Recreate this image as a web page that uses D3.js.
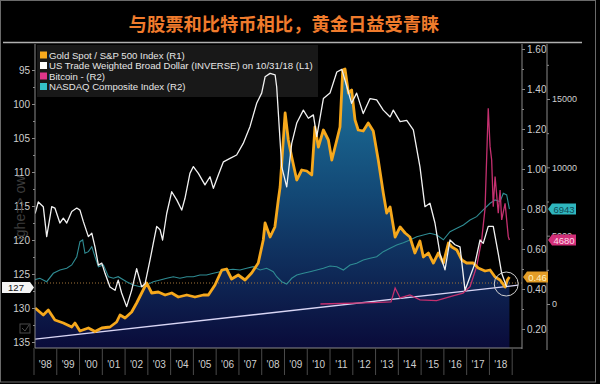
<!DOCTYPE html>
<html>
<head>
<meta charset="utf-8">
<script src="https://cdn.jsdelivr.net/npm/d3@7"></script>
<style>
html, body { margin: 0; padding: 0; background: #000; }
svg { display: block; font-family: "Liberation Sans", Arial, sans-serif; }
</style>
</head>
<body>
<svg id="gold-chart" width="600" height="384"></svg>
<script>
// ---- data ----
const title = "与股票和比特币相比，黄金日益受青睐";
const seriesNames = [
    "Gold Spot / S&P 500 Index (R1)",
    "US Trade Weighted Broad Dollar  (INVERSE) on 10/31/18 (L1)",
    "Bitcoin - (R2)",
    "NASDAQ Composite Index  (R2)"
];
const yearTicks = d3.range(1998, 2020);
const yearLabels = ["'98","'99","'00","'01","'02","'03","'04","'05","'06","'07","'08","'09","'10","'11","'12","'13","'14","'15","'16","'17","'18"];
const leftTicks = [95, 100, 105, 110, 115, 120, 125, 130, 135];
const r1Ticks = [0.2, 0.4, 0.6, 0.8, 1.0, 1.2, 1.4, 1.6];
const r2Ticks = [0, 5000, 10000, 15000];

// Gold / S&P 500 ratio (R1)
const goldSpx = [
    [1998.07,0.305],[1998.43,0.27],[1998.65,0.295],[1998.94,0.245],[1999.31,0.23],[1999.68,0.21],[1999.82,0.23],
    [2000.04,0.19],[2000.41,0.205],[2000.7,0.187],[2001.0,0.205],[2001.36,0.21],[2001.65,0.235],[2001.8,0.27],
    [2002.02,0.255],[2002.31,0.285],[2002.53,0.33],[2002.75,0.38],[2002.97,0.43],[2003.19,0.38],[2003.48,0.385],
    [2003.78,0.37],[2004.07,0.38],[2004.36,0.36],[2004.73,0.37],[2005.09,0.36],[2005.46,0.37],[2005.68,0.37],
    [2005.97,0.42],[2006.27,0.495],[2006.48,0.5],[2006.7,0.45],[2006.99,0.47],[2007.29,0.445],[2007.58,0.48],
    [2007.87,0.53],[2008.09,0.645],[2008.17,0.73],[2008.39,0.66],[2008.6,0.71],[2008.75,0.845],[2008.83,0.91],
    [2009.05,1.28],[2009.19,1.145],[2009.34,1.06],[2009.56,0.945],[2009.78,0.995],[2010.0,0.99],[2010.22,0.97],
    [2010.36,1.21],[2010.51,1.11],[2010.73,1.195],[2010.95,1.145],[2011.1,1.045],[2011.32,1.145],[2011.46,1.21],
    [2011.58,1.495],[2011.68,1.5],[2011.83,1.38],[2011.97,1.395],[2012.12,1.245],[2012.26,1.195],[2012.48,1.19],
    [2012.7,1.23],[2012.92,1.19],[2013.14,1.045],[2013.36,0.88],[2013.51,0.78],[2013.66,0.81],[2013.88,0.66],
    [2014.1,0.71],[2014.32,0.68],[2014.53,0.66],[2014.75,0.58],[2014.97,0.64],[2015.12,0.56],[2015.34,0.58],
    [2015.56,0.53],[2015.78,0.58],[2016.0,0.53],[2016.22,0.63],[2016.37,0.61],[2016.59,0.595],[2016.81,0.545],
    [2017.02,0.53],[2017.31,0.53],[2017.53,0.505],[2017.83,0.49],[2018.05,0.495],[2018.27,0.46],[2018.49,0.445],
    [2018.71,0.41],[2018.81,0.445],[2018.9,0.46]
];

// US trade weighted dollar, inverted (L1)
const dollarInv = [
    [1998.07,116.1],[1998.21,114.4],[1998.43,115.1],[1998.58,119.5],[1998.8,115.1],[1998.94,115.3],[1999.16,117.5],
    [1999.31,116.8],[1999.46,117.5],[1999.68,115.8],[1999.9,115.3],[2000.04,115.6],[2000.19,117.3],[2000.41,119.5],
    [2000.56,119.0],[2000.7,121.0],[2000.85,123.7],[2001.0,123.4],[2001.14,124.9],[2001.36,126.9],[2001.58,127.4],
    [2001.72,125.9],[2001.87,127.8],[2002.09,129.8],[2002.31,127.4],[2002.53,124.2],[2002.75,126.9],[2002.9,126.4],
    [2003.12,122.9],[2003.26,120.5],[2003.41,118.0],[2003.56,118.5],[2003.67,120.0],[2003.85,116.1],[2004.07,112.9],
    [2004.29,114.1],[2004.51,115.6],[2004.65,113.9],[2004.87,110.2],[2005.02,109.2],[2005.24,110.2],[2005.53,111.9],
    [2005.75,110.7],[2005.9,112.4],[2006.12,110.4],[2006.34,108.5],[2006.63,108.0],[2006.92,107.5],[2007.21,105.8],
    [2007.51,103.3],[2007.8,99.9],[2008.02,98.4],[2008.17,96.0],[2008.39,95.5],[2008.61,95.7],[2008.68,97.5],
    [2008.9,109.2],[2009.12,112.2],[2009.34,105.8],[2009.56,102.8],[2009.85,100.9],[2010.07,102.1],[2010.29,101.6],
    [2010.44,104.8],[2010.73,99.2],[2011.02,98.4],[2011.32,95.3],[2011.54,94.9],[2011.68,96.5],[2011.97,99.9],
    [2012.19,98.4],[2012.48,101.4],[2012.78,99.2],[2013.07,99.4],[2013.36,100.9],[2013.66,101.9],[2013.8,100.9],
    [2014.1,102.6],[2014.39,102.4],[2014.68,103.8],[2014.97,109.2],[2015.19,115.1],[2015.41,114.6],[2015.63,117.5],
    [2015.85,122.0],[2016.07,124.4],[2016.29,120.0],[2016.51,120.7],[2016.73,121.0],[2016.95,127.4],[2017.17,125.4],
    [2017.39,123.4],[2017.61,120.0],[2017.75,120.5],[2017.97,118.0],[2018.19,118.0],[2018.41,122.0],[2018.56,124.9],
    [2018.78,126.9]
];

// Bitcoin (R2)
const bitcoin = [
    [2010.6,0],[2012.9,100],[2013.7,150],[2013.88,1171],[2014.1,440],[2014.53,660],[2014.97,300],[2015.7,250],
    [2016.42,600],[2016.86,800],[2017.17,1266],[2017.46,2730],[2017.68,4685],[2017.83,7000],[2017.97,14325],
    [2018.05,11515],[2018.12,10540],[2018.19,7122],[2018.27,9318],[2018.41,6640],[2018.49,8345],[2018.56,6149],
    [2018.71,7371],[2018.78,6149],[2018.85,4926],[2018.9,4680]
];

// NASDAQ composite (R2)
const nasdaq = [
    [1998.0,1757],[1998.28,1881],[1998.58,1632],[1998.87,2247],[1999.16,2489],[1999.46,2613],[1999.68,2855],
    [1999.9,3462],[2000.04,4560],[2000.16,4685],[2000.26,3711],[2000.41,3828],[2000.56,4194],[2000.7,3462],
    [2000.85,2730],[2001.07,2855],[2001.29,1998],[2001.51,1881],[2001.72,1998],[2002.09,1632],[2002.38,1391],
    [2002.68,1266],[2002.97,1391],[2003.26,1632],[2003.56,1757],[2003.85,1881],[2004.14,1998],[2004.43,1881],
    [2004.73,1998],[2005.02,1998],[2005.31,2123],[2005.6,2123],[2005.9,2247],[2006.19,2364],[2006.48,2489],
    [2006.76,2540],[2007.07,2489],[2007.36,2613],[2007.65,2730],[2007.95,2489],[2008.24,2613],[2008.39,2489],
    [2008.53,2364],[2008.68,1998],[2008.9,1632],[2009.12,1464],[2009.34,1881],[2009.56,2123],[2009.85,2247],
    [2010.14,2364],[2010.44,2489],[2010.73,2613],[2011.02,2782],[2011.32,2730],[2011.61,2489],[2011.9,2855],
    [2012.19,2979],[2012.48,3221],[2012.78,3345],[2013.07,3462],[2013.36,3828],[2013.66,4077],[2013.95,4319],
    [2014.24,4487],[2014.53,4685],[2014.83,4926],[2015.12,5051],[2015.41,5175],[2015.71,5051],[2016.0,4700],
    [2016.29,5292],[2016.59,5541],[2016.88,5783],[2017.17,6149],[2017.46,6390],[2017.75,6881],[2018.05,7371],
    [2018.27,7613],[2018.49,7488],[2018.63,8103],[2018.78,7979],[2018.9,6943]
];

// annotations
const trendPts = [[1998.07,0.149],[2019.28,0.419]];   // support line, R1
const refLevel = 0.43;                                // dotted level, R1
const circleAt = [2018.76, 0.425];                    // circled last point, R1
const lastValues = { gold: 0.46, nasdaq: 6943, bitcoin: 4680, dollar: 127 };

// ---- layout ----
const width = 600, height = 384;
const plot = { left: 35, right: 522, top: 44, bottom: 348 };
const colors = {
    gold: "#f6a81c", dollar: "#f2f2f2", bitcoin: "#c4306f", nasdaq: "#2f8c93",
    bitcoinKey: "#e0358a", nasdaqKey: "#35c0c8", axis: "#8a8a8a", text: "#cfcfcf"
};

const x = d3.scaleLinear().domain([1998, 2019]).range([33.5, 511.7]);
const yL = d3.scaleLinear().domain([95, 135]).range([70, 342]);
const yR1 = d3.scaleLinear().domain([0.2, 1.6]).range([329, 49]);
const yR2 = d3.scaleLinear().domain([0, 15000]).range([304, 99]);

const svg = d3.select("#gold-chart");

svg.append("rect").attr("width", width).attr("height", height).attr("fill", "#000");
svg.append("rect")
    .attr("x", 0.5).attr("y", 0.5).attr("width", 595).attr("height", 381.5)
    .attr("fill", "none").attr("stroke", "#6a6a6a");

// title
svg.append("text")
    .attr("x", 284).attr("y", 31)
    .attr("text-anchor", "middle")
    .attr("font-family", "'Noto Sans CJK SC', sans-serif")
    .attr("font-weight", 700)
    .attr("font-size", 18.3)
    .attr("fill", "#f07b2c")
    .text(title);
svg.append("line")
    .attr("x1", 3).attr("x2", 582).attr("y1", 42.5).attr("y2", 42.5)
    .attr("stroke", "#b0b0b0").attr("stroke-width", 1.5);

// defs
const defs = svg.append("defs");
const grad = defs.append("linearGradient")
    .attr("id", "goldFill").attr("gradientUnits", "userSpaceOnUse")
    .attr("x1", 0).attr("x2", 0).attr("y1", 60).attr("y2", plot.bottom);
grad.append("stop").attr("offset", "0%").attr("stop-color", "#1f7aa2");
grad.append("stop").attr("offset", "45%").attr("stop-color", "#134a77");
grad.append("stop").attr("offset", "100%").attr("stop-color", "#0a0b3a");
defs.append("clipPath").attr("id", "plotClip")
    .append("rect")
    .attr("x", plot.left).attr("y", plot.top)
    .attr("width", plot.right - plot.left).attr("height", plot.bottom - plot.top);

// legend box sits under the lines (the dollar peak crosses it)
svg.append("rect")
    .attr("x", 37).attr("y", 45).attr("width", 281).attr("height", 52)
    .attr("fill", "#181818");

const g = svg.append("g").attr("clip-path", "url(#plotClip)");

// area under gold/spx
g.append("path")
    .datum(goldSpx)
    .attr("fill", "url(#goldFill)")
    .attr("d", d3.area().x(d => x(d[0])).y0(plot.bottom).y1(d => yR1(d[1])));

// dotted level line
g.append("line")
    .attr("x1", plot.left).attr("x2", plot.right)
    .attr("y1", yR1(refLevel)).attr("y2", yR1(refLevel))
    .attr("stroke", "#a2743a").attr("stroke-width", 1)
    .attr("stroke-dasharray", "1,2");

// lines
const lineR1 = d3.line().x(d => x(d[0])).y(d => yR1(d[1]));
const lineR2 = d3.line().x(d => x(d[0])).y(d => yR2(d[1]));
const lineL = d3.line().x(d => x(d[0])).y(d => yL(d[1]));

g.append("path").datum(nasdaq)
    .attr("fill", "none").attr("stroke", colors.nasdaq).attr("stroke-width", 1.1)
    .attr("d", lineR2);

g.append("path").datum(trendPts)
    .attr("fill", "none").attr("stroke", "#d9d6f5").attr("stroke-width", 1.3)
    .attr("d", lineR1);

g.append("path").datum(bitcoin)
    .attr("fill", "none").attr("stroke", colors.bitcoin).attr("stroke-width", 1.3)
    .attr("d", lineR2);

g.append("path").datum(goldSpx)
    .attr("fill", "none").attr("stroke", colors.gold).attr("stroke-width", 2.8)
    .attr("stroke-linejoin", "round")
    .attr("d", lineR1);

g.append("path").datum(dollarInv)
    .attr("fill", "none").attr("stroke", colors.dollar).attr("stroke-width", 1.3)
    .attr("stroke-linejoin", "round")
    .attr("d", lineL);

// circle annotation
svg.append("circle")
    .attr("cx", x(circleAt[0])).attr("cy", yR1(circleAt[1])).attr("r", 12)
    .attr("fill", "none").attr("stroke", "#d0d0d0").attr("stroke-width", 1);

// legend keys and text
const legend = svg.append("g");
const keyColors = [colors.gold, "#ffffff", colors.bitcoinKey, colors.nasdaqKey];
seriesNames.forEach((name, i) => {
    const yy = 55 + i * 10.5;
    legend.append("rect")
        .attr("x", 40).attr("y", yy - 3.5).attr("width", 7).attr("height", 7)
        .attr("fill", keyColors[i]);
    legend.append("text")
        .attr("x", 49).attr("y", yy + 3.5)
        .attr("font-size", 9.6).attr("fill", "#e6e6e6")
        .text(name);
});

// axes
const styleAxis = (sel) => {
    sel.select(".domain").remove();
    sel.selectAll(".tick line").attr("stroke", colors.axis);
    sel.selectAll(".tick text").attr("fill", colors.text).attr("font-size", 10)
        .attr("font-family", "'Liberation Sans', Arial, sans-serif");
};

// left axis (L1)
svg.append("line")
    .attr("x1", plot.left).attr("x2", plot.left).attr("y1", plot.top).attr("y2", plot.bottom)
    .attr("stroke", colors.axis);
svg.append("g")
    .attr("transform", `translate(${plot.left},0)`)
    .call(d3.axisLeft(yL).tickValues(leftTicks).tickSize(3).tickPadding(2))
    .call(styleAxis);
svg.append("g")
    .attr("transform", `translate(${plot.left},0)`)
    .call(d3.axisLeft(yL).tickValues(leftTicks.slice(0, -1).map(d => d + 2.5)).tickSize(2).tickFormat(""))
    .call(styleAxis);

// right axis R1
svg.append("line")
    .attr("x1", plot.right).attr("x2", plot.right).attr("y1", plot.top).attr("y2", plot.bottom + 1)
    .attr("stroke", colors.axis);
svg.append("g")
    .attr("transform", `translate(${plot.right},0)`)
    .call(d3.axisRight(yR1).tickValues(r1Ticks).tickSize(3).tickPadding(2).tickFormat(d3.format(".2f")))
    .call(styleAxis);
svg.append("g")
    .attr("transform", `translate(${plot.right},0)`)
    .call(d3.axisRight(yR1).tickValues(r1Ticks.map(d => d + 0.1).filter(d => d < 1.6)).tickSize(2).tickFormat(""))
    .call(styleAxis);

// right axis R2
const r2x = 547;
svg.append("line")
    .attr("x1", r2x).attr("x2", r2x).attr("y1", plot.top).attr("y2", plot.bottom + 2)
    .attr("stroke", colors.axis);
svg.append("g")
    .attr("transform", `translate(${r2x},0)`)
    .call(d3.axisRight(yR2).tickValues(r2Ticks).tickSize(3).tickPadding(2).tickFormat(d3.format("d")))
    .call(styleAxis)
    .call(s => s.selectAll(".tick text").attr("font-size", 9));
svg.append("g")
    .attr("transform", `translate(${r2x},0)`)
    .call(d3.axisRight(yR2).tickValues(r2Ticks.map(d => d + 2500)).tickSize(2).tickFormat(""))
    .call(styleAxis);

// bottom axis
svg.append("line")
    .attr("x1", plot.left).attr("x2", plot.right).attr("y1", plot.bottom).attr("y2", plot.bottom)
    .attr("stroke", colors.axis);
svg.append("g")
    .attr("transform", `translate(0,${plot.bottom})`)
    .call(d3.axisBottom(x).tickValues(yearTicks).tickSize(27).tickFormat(""))
    .call(styleAxis)
    .call(s => s.selectAll(".tick line").attr("stroke", "#4a4a4a"));
svg.append("g")
    .attr("transform", `translate(0,${plot.bottom})`)
    .call(d3.axisBottom(x)
        .tickValues(yearLabels.map((d, i) => yearTicks[i] + 0.5))
        .tickSize(0).tickPadding(13)
        .tickFormat((d, i) => yearLabels[i]))
    .call(styleAxis);

// value tags
const tag = (tipX, cy, w, dir, fill, txtColor, label) => {
    const h = 5.5;
    const p = d3.path();
    p.moveTo(tipX, cy);
    p.lineTo(tipX + dir * 4, cy - h);
    p.lineTo(tipX + dir * w, cy - h);
    p.lineTo(tipX + dir * w, cy + h);
    p.lineTo(tipX + dir * 4, cy + h);
    p.closePath();
    svg.append("path").attr("d", p.toString()).attr("fill", fill);
    svg.append("text")
        .attr("x", tipX + dir * (w + 4) / 2).attr("y", cy + 3.5)
        .attr("text-anchor", "middle").attr("font-size", 9.5)
        .attr("fill", txtColor).text(label);
};
tag(plot.right + 1, yR1(lastValues.gold), 25, 1, "#e39d27", "#fff2c0", lastValues.gold.toFixed(2));
tag(r2x + 1, yR2(lastValues.nasdaq), 28, 1, "#2fb6be", "#0f4a55", lastValues.nasdaq);
tag(r2x + 1, yR2(lastValues.bitcoin), 28, 1, "#d22f79", "#ffd8e8", lastValues.bitcoin);
tag(plot.left - 1, yL(lastValues.dollar), 32, -1, "#f4f4f4", "#111", lastValues.dollar);

// faint rotated axis caption
svg.append("text")
    .attr("transform", "translate(25,208) rotate(-90)")
    .attr("text-anchor", "middle").attr("font-size", 14)
    .attr("fill", "#3c3c3c")
    .text("ighe=> ow");

// small checkbox icon
svg.append("rect")
    .attr("x", 20).attr("y", 324).attr("width", 10).attr("height", 9)
    .attr("fill", "none").attr("stroke", "#4a4a4a");
svg.append("path")
    .attr("d", "M22,328 L25,331 L29,325")
    .attr("fill", "none").attr("stroke", "#4a4a4a");
</script>
</body>
</html>
